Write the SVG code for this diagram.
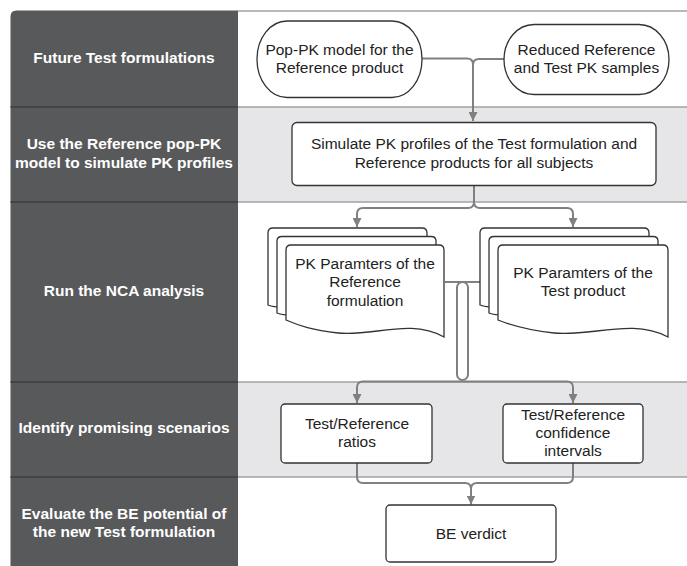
<svg xmlns="http://www.w3.org/2000/svg" width="687" height="566" viewBox="0 0 687 566">
<defs>
<style>
.lane-w{fill:#ffffff}
.lane-g{fill:#e6e6e8}
.lborder{stroke:#a3a3a5;stroke-width:1.5;fill:none}
.dsep{stroke:#3e3e40;stroke-width:1.5;fill:none}
.hdr{font-family:"Liberation Sans",Arial,sans-serif;font-size:15.5px;font-weight:bold;fill:#ffffff;text-anchor:middle}
.node{fill:#ffffff;stroke:#333333;stroke-width:1.3}
.txt{font-family:"Liberation Sans",Arial,sans-serif;font-size:15.5px;fill:#222222;text-anchor:middle}
.conn{fill:none;stroke:#808080;stroke-width:2}
</style>
<marker id="arr" viewBox="0 0 10 10" refX="10" refY="5" markerWidth="4.5" markerHeight="4.5" orient="auto" markerUnits="strokeWidth">
<path d="M0,0 L10,5 L0,10 z" fill="#808080"/>
</marker>
</defs>

<g id="lanes">
<rect class="lane-w" x="238" y="11" width="449" height="96"/>
<rect class="lane-g" x="238" y="107" width="449" height="95"/>
<rect class="lane-w" x="238" y="202" width="449" height="180"/>
<rect class="lane-g" x="238" y="382" width="449" height="95"/>
<rect class="lane-w" x="238" y="477" width="449" height="89"/>
<path class="lborder" d="M238,11 H687 M238,107 H687 M238,202 H687 M238,382 H687 M238,477 H687"/>
<path d="M10.5,566 V16.5 Q10.5,10.5 16.5,10.5 H238 V566 Z" fill="#58595b"/>
<path class="dsep" d="M10.5,107 H238 M10.5,202 H238 M10.5,382 H238 M10.5,477 H238"/>
<text class="hdr" x="124" y="62.5">Future Test formulations</text>
<text class="hdr" x="124" y="149">Use the Reference pop-PK</text>
<text class="hdr" x="124" y="167.5">model to simulate PK profiles</text>
<text class="hdr" x="124" y="295.5">Run the NCA analysis</text>
<text class="hdr" x="124" y="433">Identify promising scenarios</text>
<text class="hdr" x="124" y="519">Evaluate the BE potential of</text>
<text class="hdr" x="124" y="537">the new Test formulation</text>
</g>

<g id="connectors">
<path class="conn" d="M422,58.5 H467 Q473,58.5 473,64.5 V121" marker-end="url(#arr)"/>
<path class="conn" d="M504,59 H479 Q473,59 473,65"/>
<path class="conn" d="M474,186 V202 Q474,208 468,208 H363 Q357,208 357,214 V227" marker-end="url(#arr)"/>
<path class="conn" d="M474,202 Q474,208 480,208 H567 Q573,208 573,214 V227" marker-end="url(#arr)"/>
<path class="conn" d="M445,282 H480"/>
<rect class="conn" x="457" y="282" width="11" height="98" rx="5.5"/>
<path class="conn" d="M462.5,381.5 H363 Q357,381.5 357,387.5 V403" marker-end="url(#arr)"/>
<path class="conn" d="M462.5,381.5 H567 Q573,381.5 573,387.5 V403" marker-end="url(#arr)"/>
<path class="conn" d="M357,463 V477 Q357,483 363,483 H465 Q471,483 471,489 V504.5" marker-end="url(#arr)"/>
<path class="conn" d="M573,463 V477 Q573,483 567,483 H477 Q471,483 471,489"/>
</g>

<g id="popPK">
<rect class="node" x="257" y="21" width="165" height="76.5" rx="30" ry="38"/>
<text class="txt" x="339.5" y="54.5">Pop-PK model for the</text>
<text class="txt" x="339.5" y="72.5">Reference product</text>
</g>

<g id="reducedSamples">
<rect class="node" x="504" y="24.5" width="165" height="70" rx="30" ry="35"/>
<text class="txt" x="586.5" y="54.5">Reduced Reference</text>
<text class="txt" x="586.5" y="72.5">and Test PK samples</text>
</g>

<g id="simulate">
<rect class="node" x="292" y="122.5" width="364" height="63" rx="5"/>
<text class="txt" x="474" y="149">Simulate PK profiles of the Test formulation and</text>
<text class="txt" x="474" y="167.5">Reference products for all subjects</text>
</g>

<g id="pkReference">
<path class="node" d="M268,305 V233 Q268,228 273,228 H422 Q427,228 427,233 V320 C400,303 360,327 327,312 C300,300 285,312 268,305 Z"/>
<path class="node" d="M277,313 V241 Q277,236.5 282,236.5 H431 Q436,236.5 436,241 V328 C409,311 369,335 336,320 C309,308 294,320 277,313 Z"/>
<path class="node" d="M286,320 V250 Q286,245 291,245 H439 Q444,245 444,250 V337 C410,318 372,337 338,333 C312,330 300,326 286,320 Z"/>
<text class="txt" x="365" y="268.5">PK Paramters of the</text>
<text class="txt" x="365" y="287">Reference</text>
<text class="txt" x="365" y="305.5">formulation</text>
</g>

<g id="pkTest">
<path class="node" d="M480,305 V233 Q480,228 485,228 H644 Q649,228 649,233 V320 C620,303 578,327 543,312 C514,300 498,312 480,305 Z"/>
<path class="node" d="M489,313 V241 Q489,236.5 494,236.5 H653 Q658,236.5 658,241 V328 C629,311 587,335 552,320 C523,308 507,320 489,313 Z"/>
<path class="node" d="M498,320 V250 Q498,245 503,245 H663 Q668,245 668,250 V337 C632,318 591,337 554,333 C527,330 513,326 498,320 Z"/>
<text class="txt" x="583" y="277.5">PK Paramters of the</text>
<text class="txt" x="583" y="296">Test product</text>
</g>

<g id="ratios">
<rect class="node" x="281" y="404" width="151" height="59" rx="4"/>
<text class="txt" x="357" y="428.5">Test/Reference</text>
<text class="txt" x="357" y="446.5">ratios</text>
</g>

<g id="confidence">
<rect class="node" x="503" y="404" width="140" height="59" rx="4"/>
<text class="txt" x="573" y="419.5">Test/Reference</text>
<text class="txt" x="573" y="437.5">confidence</text>
<text class="txt" x="573" y="455.5">intervals</text>
</g>

<g id="verdict">
<rect class="node" x="386" y="505" width="170" height="57" rx="4"/>
<text class="txt" x="471" y="538.5">BE verdict</text>
</g>
</svg>
